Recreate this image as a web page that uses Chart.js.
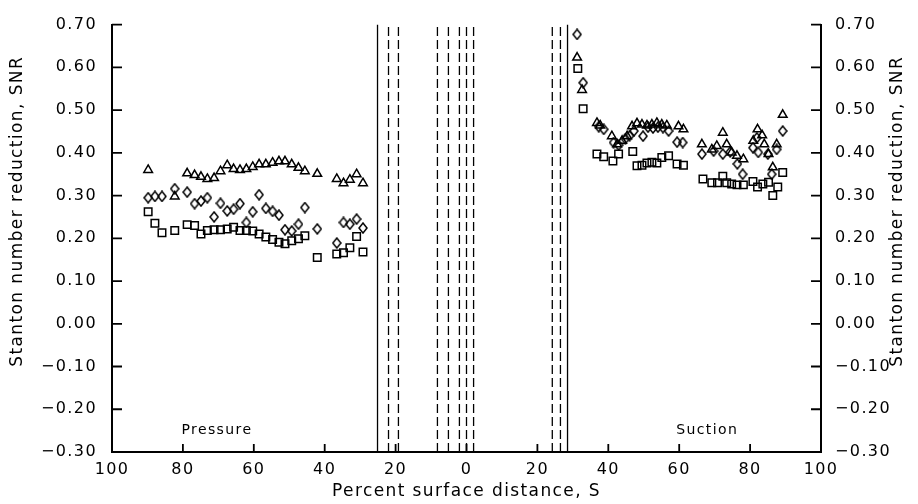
<!DOCTYPE html>
<html>
<head>
<meta charset="utf-8">
<title>Stanton number reduction</title>
<script src="https://cdn.jsdelivr.net/npm/chart.js@4.4.1/dist/chart.umd.min.js"></script>
<style>
	html, body { margin: 0; padding: 0; background: #fff; }
	#wrap { width: 918px; height: 504px; }
</style>
</head>
<body>
<div id="wrap"><canvas id="snrChart" width="918" height="504"></canvas></div>
<script>
// axis ticks (pressure side is plotted as negative S)
const xTickValues = [-100, -80, -60, -40, -20, 0, 20, 40, 60, 80, 100];
const xTickLabels = ["100", "80", "60", "40", "20", "0", "20", "40", "60", "80", "100"];
const yTickValues = [-0.3, -0.2, -0.1, 0, 0.1, 0.2, 0.3, 0.4, 0.5, 0.6, 0.7];
const yTickLabels = ["\u22120.30", "\u22120.20", "\u22120.10", "0.00", "0.10", "0.20", "0.30", "0.40", "0.50", "0.60", "0.70"];

const xTitle = "Percent surface distance, S";
const yTitle = "Stanton number reduction, SNR";

// pressure side stations, shared by the three symbols
const pressureS = [-89.8, -87.9, -85.9, -82.3, -78.8, -76.7, -74.9, -73.1, -71.2, -69.4, -67.5, -65.7, -63.9, -62.1, -60.3,
	-58.5, -56.6, -54.7, -52.9, -51.2, -49.3, -47.4, -45.6, -42.1, -36.6, -34.7, -32.9, -31.0, -29.2];
const pressureTri = [0.360, null, null, 0.298, 0.352, 0.348, 0.344, 0.339, 0.341, 0.357, 0.371, 0.362, 0.360, 0.362, 0.367,
	0.373, 0.373, 0.377, 0.380, 0.380, 0.373, 0.365, 0.357, 0.351, 0.339, 0.329, 0.337, 0.350, 0.329];
const pressureDia = [0.295, 0.298, 0.298, 0.316, 0.308, 0.281, 0.287, 0.295, 0.250, 0.282, 0.264, 0.268, 0.281, 0.237, 0.262,
	0.302, 0.270, 0.263, 0.254, 0.220, 0.217, 0.233, 0.272, 0.222, 0.189, 0.237, 0.233, 0.245, 0.224];
const pressureSq = [0.262, 0.235, 0.213, 0.218, 0.232, 0.230, 0.210, 0.218, 0.220, 0.220, 0.222, 0.226, 0.218, 0.218, 0.217,
	0.210, 0.203, 0.197, 0.191, 0.187, 0.194, 0.199, 0.206, 0.155, 0.163, 0.166, 0.178, 0.204, 0.168];

// suction side
const suctionTriS = [31.2, 32.6, 36.8, 37.7, 41.0, 42.5, 43.9, 45.3, 46.7, 48.1, 49.5, 50.9, 52.3, 53.7, 55.1, 56.5, 59.8,
	61.2, 66.4, 69.2, 70.6, 72.3, 73.4, 74.8, 76.3, 78.1, 80.9, 82.1, 83.4, 84.0, 85.2, 86.4, 87.5, 89.2];
const suctionTri = [0.623, 0.547, 0.470, 0.464, 0.439, 0.420, 0.428, 0.439, 0.462, 0.469, 0.466, 0.464, 0.466, 0.470, 0.466,
	0.464, 0.462, 0.455, 0.420, 0.408, 0.416, 0.447, 0.420, 0.401, 0.393, 0.385, 0.428, 0.455, 0.441, 0.420, 0.397, 0.366,
	0.420, 0.489];
const suctionDiaS = [31.2, 32.9, 37.3, 38.7, 41.5, 42.9, 44.8, 46.0, 47.2, 49.8, 51.2, 52.6, 54.0, 55.4, 57.0, 59.4, 61.0,
	66.4, 69.7, 72.3, 74.4, 76.4, 77.9, 80.8, 81.9, 82.3, 85.0, 86.1, 87.5, 89.2];
const suctionDia = [0.677, 0.564, 0.461, 0.455, 0.424, 0.418, 0.433, 0.440, 0.451, 0.439, 0.460, 0.458, 0.460, 0.459, 0.451,
	0.425, 0.424, 0.397, 0.404, 0.397, 0.402, 0.374, 0.350, 0.412, 0.435, 0.401, 0.397, 0.350, 0.408, 0.451];
const suctionSqS = [31.4, 32.9, 36.8, 38.7, 41.3, 42.9, 46.9, 48.1, 49.5, 50.9, 52.3, 53.7, 55.1, 57.0, 59.4, 61.2, 66.7,
	69.2, 70.8, 72.3, 73.4, 74.8, 76.3, 78.1, 80.8, 82.1, 83.6, 85.2, 86.4, 87.8, 89.2];
const suctionSq = [0.597, 0.503, 0.397, 0.391, 0.381, 0.397, 0.403, 0.370, 0.371, 0.376, 0.378, 0.376, 0.389, 0.393, 0.374,
	0.371, 0.339, 0.330, 0.330, 0.345, 0.330, 0.327, 0.325, 0.325, 0.333, 0.320, 0.327, 0.331, 0.300, 0.320, 0.354];

// vertical reference lines
const solidLinesS = [-25.1, 28.5];
const dashedLinesS = [-22.0, -19.2, -8.2, -5.1, -2.0, 0, 2.0, 24.2, 26.5];

// side labels (data coordinates)
const sideLabels = ["Pressure", "Suction"];
const sideLabelS = [-70.4, 67.9];
const sideLabelY = [-0.25, -0.25];

const FONT = "'DejaVu Sans', sans-serif";
const INK = "#000";

function toPoints(xs, ys) {
	const pts = [];
	xs.forEach((x, i) => {
		if (ys[i] !== null) pts.push({ x: x, y: ys[i] });
	});
	return pts;
}

// narrow open diamond marker
function makeDiamond() {
	const c = document.createElement("canvas");
	c.width = 10;
	c.height = 12;
	const g = c.getContext("2d");
	g.strokeStyle = INK;
	g.lineWidth = 1.5;
	g.beginPath();
	g.moveTo(5, 1);
	g.lineTo(9, 6);
	g.lineTo(5, 11);
	g.lineTo(1, 6);
	g.closePath();
	g.stroke();
	return c;
}

function markerSet(points, style, radius) {
	return {
		type: "scatter",
		data: points,
		pointStyle: style,
		pointRadius: radius,
		pointBorderColor: INK,
		pointBackgroundColor: "rgba(0,0,0,0)",
		pointBorderWidth: 1.5,
		showLine: false
	};
}

function vLine(s, dashed) {
	return {
		type: "line",
		data: [{ x: s, y: -0.3 }, { x: s, y: 0.7 }],
		borderColor: INK,
		borderWidth: 1.3,
		borderDash: dashed ? [9, 4] : [],
		pointRadius: 0,
		fill: false
	};
}

const datasets = [];
solidLinesS.forEach((s) => datasets.push(vLine(s, false)));
dashedLinesS.forEach((s) => datasets.push(vLine(s, true)));
datasets.push(markerSet(toPoints(pressureS, pressureTri).concat(toPoints(suctionTriS, suctionTri)), "triangle", 5));
datasets.push(markerSet(toPoints(pressureS, pressureDia).concat(toPoints(suctionDiaS, suctionDia)), makeDiamond(), 5));
datasets.push(markerSet(toPoints(pressureS, pressureSq).concat(toPoints(suctionSqS, suctionSq)), "rect", 5.3));

// frame, tick marks inside the frame, side labels, rotated axis titles
const decorPlugin = {
	id: "decor",
	beforeDraw(chart) {
		chart.ctx.letterSpacing = "1.4px";
	},
	afterDraw(chart) {
		const { ctx, chartArea, scales } = chart;
		const xs = scales.x;
		const ys = scales.y;
		const L = chartArea.left, R = chartArea.right, B = chartArea.bottom;
		ctx.save();
		ctx.setLineDash([]);
		ctx.strokeStyle = INK;

		// open frame: left, bottom, right
		ctx.lineWidth = 2;
		ctx.beginPath();
		ctx.moveTo(L, ys.getPixelForValue(0.7));
		ctx.lineTo(L, B);
		ctx.lineTo(R, B);
		ctx.lineTo(R, ys.getPixelForValue(0.7));
		ctx.stroke();

		ctx.lineWidth = 1.8;
		ctx.beginPath();
		yTickValues.forEach((v) => {
			const py = ys.getPixelForValue(v);
			ctx.moveTo(L, py);
			ctx.lineTo(L + 10, py);
			ctx.moveTo(R - 10, py);
			ctx.lineTo(R, py);
		});
		xTickValues.slice(1, -1).forEach((v) => {
			const px = xs.getPixelForValue(v);
			ctx.moveTo(px, B);
			ctx.lineTo(px, B - 8);
		});
		ctx.stroke();

		ctx.fillStyle = INK;
		ctx.textAlign = "center";
		ctx.textBaseline = "middle";
		ctx.font = "14px " + FONT;
		sideLabels.forEach((t, i) => {
			ctx.fillText(t, xs.getPixelForValue(sideLabelS[i]), ys.getPixelForValue(sideLabelY[i]));
		});

		ctx.font = "17px " + FONT;
		const midY = (chartArea.top + B) / 2 - 27;
		[18, 898].forEach((tx) => {
			ctx.save();
			ctx.translate(tx, midY);
			ctx.rotate(-Math.PI / 2);
			ctx.fillText(yTitle, 0, 0);
			ctx.restore();
		});
		ctx.restore();
		ctx.letterSpacing = "0px";
	}
};

function yAxis(pos, width, pad) {
	return {
		type: "linear",
		position: pos,
		min: -0.3,
		max: 0.7,
		afterBuildTicks: (axis) => {
			axis.ticks = yTickValues.map((v) => ({ value: v }));
		},
		afterFit: (axis) => {
			axis.width = width;
		},
		grid: { display: false, drawTicks: false },
		border: { display: true, color: INK, width: 2 },
		ticks: {
			color: INK,
			padding: pad,
			font: { family: FONT, size: 16 },
			callback: (value, index) => yTickLabels[index]
		}
	};
}

const ctx = document.getElementById("snrChart").getContext("2d");
new Chart(ctx, {
	data: { datasets: datasets },
	plugins: [decorPlugin],
	options: {
		responsive: false,
		animation: false,
		layout: { padding: { top: 17, left: 0, right: 0, bottom: 0 } },
		plugins: {
			legend: { display: false },
			tooltip: { enabled: false }
		},
		scales: {
			x: {
				type: "linear",
				position: "bottom",
				min: -100,
				max: 100,
				afterBuildTicks: (axis) => {
					axis.ticks = xTickValues.map((v) => ({ value: v }));
				},
				afterFit: (axis) => {
					axis.height = 52;
				},
				grid: { display: false, drawTicks: false },
				border: { display: true, color: INK, width: 2 },
				ticks: {
					color: INK,
					padding: 8,
					maxRotation: 0,
					autoSkip: false,
					font: { family: FONT, size: 16 },
					callback: (value, index) => xTickLabels[index]
				},
				title: {
					display: true,
					text: xTitle,
					color: INK,
					font: { family: FONT, size: 17 },
					padding: { top: 0, bottom: 2 }
				}
			},
			y: yAxis("left", 112, 15),
			y2: yAxis("right", 97, 14)
		}
	}
});
</script>
</body>
</html>
